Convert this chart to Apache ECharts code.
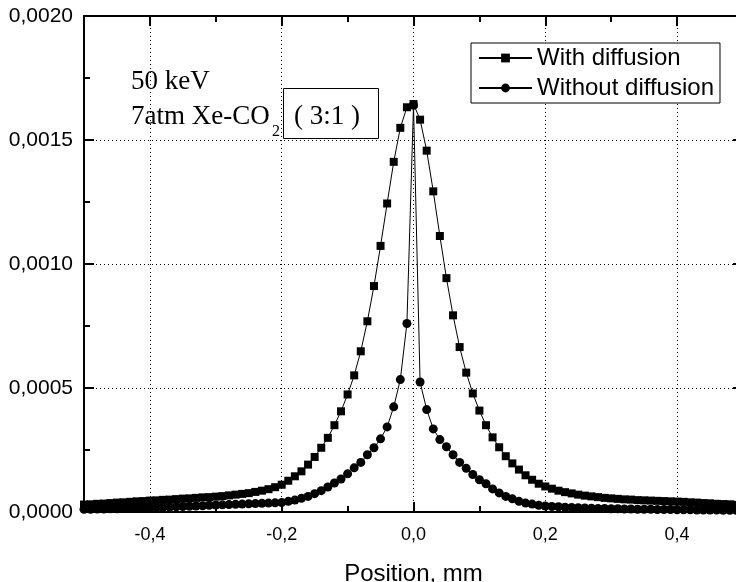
<!DOCTYPE html>
<html>
<head>
<meta charset="utf-8">
<script src="https://cdn.jsdelivr.net/npm/echarts@6/dist/echarts.min.js"></script>
<style>
  html, body { margin: 0; padding: 0; background: #fff; }
  #chart { width: 736px; height: 582px; }
</style>
</head>
<body>
<div id="chart"></div>
<script>
// position along detector, mm
const positions = [
  -0.50, -0.49, -0.48, -0.47, -0.46, -0.45, -0.44, -0.43, -0.42, -0.41,
  -0.40, -0.39, -0.38, -0.37, -0.36, -0.35, -0.34, -0.33, -0.32, -0.31,
  -0.30, -0.29, -0.28, -0.27, -0.26, -0.25, -0.24, -0.23, -0.22, -0.21,
  -0.20, -0.19, -0.18, -0.17, -0.16, -0.15, -0.14, -0.13, -0.12, -0.11,
  -0.10, -0.09, -0.08, -0.07, -0.06, -0.05, -0.04, -0.03, -0.02, -0.01,
  0.00,
  0.01, 0.02, 0.03, 0.04, 0.05, 0.06, 0.07, 0.08, 0.09, 0.10,
  0.11, 0.12, 0.13, 0.14, 0.15, 0.16, 0.17, 0.18, 0.19, 0.20,
  0.21, 0.22, 0.23, 0.24, 0.25, 0.26, 0.27, 0.28, 0.29, 0.30,
  0.31, 0.32, 0.33, 0.34, 0.35, 0.36, 0.37, 0.38, 0.39, 0.40,
  0.41, 0.42, 0.43, 0.44, 0.45, 0.46, 0.47, 0.48, 0.49, 0.50
]

const withDiffusion = [
  0.000030, 0.000031, 0.000033, 0.000034, 0.000036, 0.000038, 0.000039, 0.000041, 0.000043, 0.000044,
  0.000046, 0.000047, 0.000049, 0.000050, 0.000052, 0.000054, 0.000055, 0.000057, 0.000059, 0.000060,
  0.000062, 0.000064, 0.000067, 0.000070, 0.000073, 0.000076, 0.000081, 0.000086, 0.000092, 0.000100,
  0.000110, 0.000126, 0.000144, 0.000164, 0.000191, 0.000222, 0.000259, 0.000299, 0.000350, 0.000406,
  0.000474, 0.000551, 0.000648, 0.000769, 0.000911, 0.001073, 0.001244, 0.001412, 0.001549, 0.001632,
  0.001645,
  0.001582, 0.001457, 0.001293, 0.001113, 0.000943, 0.000793, 0.000665, 0.000562, 0.000478, 0.000409,
  0.000350, 0.000301, 0.000261, 0.000225, 0.000196, 0.000171, 0.000148, 0.000130, 0.000114, 0.000103,
  0.000094, 0.000086, 0.000080, 0.000075, 0.000070, 0.000066, 0.000063, 0.000060, 0.000057, 0.000055,
  0.000053, 0.000051, 0.000050, 0.000048, 0.000047, 0.000046, 0.000045, 0.000044, 0.000043, 0.000042,
  0.000041, 0.000039, 0.000038, 0.000036, 0.000035, 0.000033, 0.000032, 0.000031, 0.000029, 0.000028
]

const withoutDiffusion = [
  0.000011, 0.000011, 0.000012, 0.000012, 0.000013, 0.000013, 0.000014, 0.000015, 0.000015, 0.000016,
  0.000017, 0.000018, 0.000019, 0.000020, 0.000021, 0.000022, 0.000023, 0.000024, 0.000025, 0.000027,
  0.000028, 0.000029, 0.000030, 0.000031, 0.000032, 0.000033, 0.000034, 0.000035, 0.000036, 0.000037,
  0.000038, 0.000043, 0.000048, 0.000055, 0.000063, 0.000074, 0.000086, 0.000101, 0.000117, 0.000133,
  0.000154, 0.000178, 0.000200, 0.000231, 0.000259, 0.000295, 0.000343, 0.000424, 0.000534, 0.000760,
  0.001640,
  0.000524, 0.000413, 0.000335, 0.000292, 0.000263, 0.000231, 0.000200, 0.000176, 0.000151, 0.000130,
  0.000114, 0.000093, 0.000077, 0.000063, 0.000053, 0.000043, 0.000036, 0.000032, 0.000027, 0.000024,
  0.000022, 0.000021, 0.000019, 0.000018, 0.000017, 0.000016, 0.000015, 0.000014, 0.000014, 0.000013,
  0.000013, 0.000012, 0.000012, 0.000011, 0.000011, 0.000011, 0.000010, 0.000010, 0.000010, 0.000009,
  0.000009, 0.000009, 0.000008, 0.000008, 0.000008, 0.000008, 0.000007, 0.000007, 0.000007, 0.000007
]

const xMajorTicks = [-0.4, -0.2, 0, 0.2, 0.4]
const seriesNames = ['With diffusion', 'Without diffusion']

let chart = echarts.init(document.getElementById('chart'), null, {renderer: 'canvas'})

const pair = (ys) => positions.map((x, i) => [x, ys[i]])
const comma = (v, d) => v.toFixed(d).replace('.', ',').replace('-0,0', '0,0')

const black = '#000'
const majorX = (position, labels) => ({
  type: 'value',
  position: position,
  min: -0.5,
  max: 0.5,
  axisLine: {show: true, onZero: false, lineStyle: {color: black, width: 2}},
  axisTick: {inside: true, length: 10, customValues: xMajorTicks, lineStyle: {color: black, width: 2}},
  axisLabel: {
    show: labels,
    customValues: xMajorTicks,
    margin: 14,
    color: black,
    fontSize: 18,
    fontFamily: 'Liberation Sans, Arial',
    formatter: v => comma(v, 1)
  },
  splitLine: {show: labels, lineStyle: {color: black, type: [1, 3], width: 1}},
  name: labels ? 'Position, mm' : '',
  nameLocation: 'middle',
  nameGap: 50,
  nameTextStyle: {color: black, fontSize: 24, fontFamily: 'Liberation Sans, Arial'}
})
const minorX = (position) => ({
  type: 'value',
  position: position,
  min: -0.5,
  max: 0.5,
  interval: 0.1,
  axisLine: {show: false, onZero: false},
  axisTick: {inside: true, length: 6, lineStyle: {color: black, width: 2}},
  axisLabel: {show: false},
  splitLine: {show: false}
})
const yAxisOf = (position, labels) => ({
  type: 'value',
  position: position,
  min: 0,
  max: 0.002,
  interval: 0.0005,
  axisLine: {show: true, onZero: false, lineStyle: {color: black, width: 2}},
  axisTick: {inside: true, length: 10, lineStyle: {color: black, width: 2}},
  minorTick: {show: true, splitNumber: 2, length: 6, lineStyle: {color: black, width: 2}},
  axisLabel: {
    show: labels,
    margin: 11,
    color: black,
    fontSize: 21,
    fontFamily: 'Liberation Sans, Arial',
    formatter: v => comma(v, 4)
  },
  splitLine: {show: labels, lineStyle: {color: black, type: [1, 3], width: 1}}
})

let option = {
  backgroundColor: '#fff',
  animation: false,
  grid: {left: 84, right: -7, top: 16, bottom: 70, outerBoundsMode: 'none', containLabel: false},
  xAxis: [majorX('bottom', true), minorX('bottom'), majorX('top', false), minorX('top')],
  yAxis: [yAxisOf('left', true), yAxisOf('right', false)],
  legend: {
    orient: 'vertical',
    left: 471,
    top: 43,
    padding: [3, 6, 3, 7],
    itemGap: 6,
    itemWidth: 53,
    itemHeight: 11,
    borderColor: black,
    borderWidth: 1,
    borderRadius: 0,
    backgroundColor: '#fff',
    data: seriesNames,
    textStyle: {color: black, fontSize: 24, lineHeight: 24, fontFamily: 'Liberation Sans, Arial', padding: [0, 0, 0, 0]}
  },
  series: [
    {
      name: seriesNames[0],
      type: 'line',
      xAxisIndex: 0,
      yAxisIndex: 0,
      data: pair(withDiffusion),
      symbol: 'rect',
      symbolSize: 8,
      showAllSymbol: true,
      itemStyle: {color: black},
      lineStyle: {color: black, width: 1}
    },
    {
      name: seriesNames[1],
      type: 'line',
      xAxisIndex: 0,
      yAxisIndex: 0,
      data: pair(withoutDiffusion),
      symbol: 'circle',
      symbolSize: 9,
      showAllSymbol: true,
      itemStyle: {color: black},
      lineStyle: {color: black, width: 1}
    }
  ],
  graphic: [
    {
      type: 'text', left: 131, top: 68,
      style: {text: '50 keV', fill: black, font: '27px "Liberation Serif", "Times New Roman", serif'}
    },
    {
      type: 'text', left: 131, top: 103,
      style: {text: '7atm Xe-CO', fill: black, font: '27px "Liberation Serif", "Times New Roman", serif'}
    },
    {
      type: 'text', left: 272, top: 124,
      style: {text: '2', fill: black, font: '16px "Liberation Serif", "Times New Roman", serif'}
    },
    {
      type: 'rect', left: 283, top: 88,
      shape: {width: 95, height: 50},
      style: {fill: '#fff', stroke: black, lineWidth: 1}
    },
    {
      type: 'text', left: 294, top: 103,
      style: {text: '( 3:1 )', fill: black, font: '27px "Liberation Serif", "Times New Roman", serif'}
    }
  ]
}
chart.setOption(option)
</script>
</body>
</html>
